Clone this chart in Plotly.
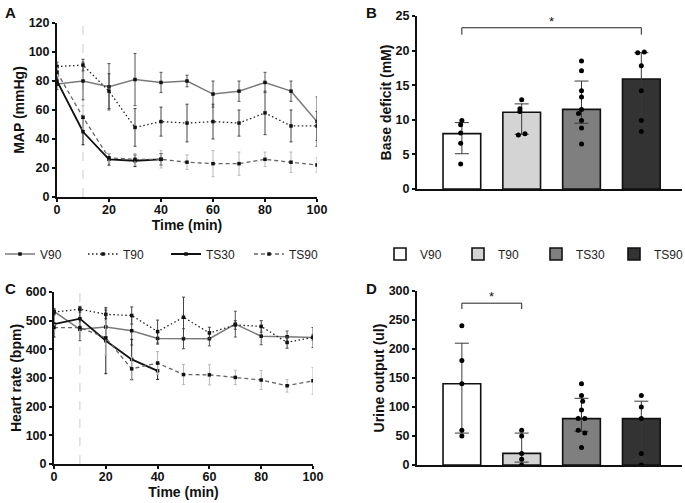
import plotly.graph_objects as go

# ---------------- data ----------------
groups = ["V90", "T90", "TS30", "TS90"]
time_full = [0, 10, 20, 30, 40, 50, 60, 70, 80, 90, 100]
time_ts30 = [0, 10, 20, 30, 40]
shock_end = 10

# MAP (mmHg), mean and SD
v90_map = [78, 80, 76, 81, 79, 80, 71, 73, 79, 73, 52]
v90_map_sd = [4, 13, 16, 18, 7, 4, 9, 7, 7, 7, 17]
t90_map = [90, 91, 73, 48, 52, 51, 52, 51, 58, 49, 49]
t90_map_sd = [3, 4, 12, 13, 10, 13, 12, 9, 15, 11, 10]
ts30_map = [80, 45, 26, 25, 26]
ts30_map_sd = [3, 9, 4, 4, 4]
ts90_map = [86, 55, 27, 26, 26, 24, 23, 23, 26, 24, 22]
ts90_map_sd = [3, 8, 3, 4, 6, 5, 9, 8, 5, 7, 5]

# Heart rate (bpm), mean and SD
v90_hr = [532, 470, 478, 465, 438, 437, 437, 488, 446, 444, 441]
v90_hr_sd = [10, 40, 45, 50, 20, 35, 25, 45, 30, 20, 35]
t90_hr = [530, 540, 522, 518, 462, 512, 457, 485, 480, 424, 442]
t90_hr_sd = [10, 10, 15, 30, 40, 70, 20, 15, 20, 20, 10]
ts30_hr = [488, 507, 430, 365, 325]
ts30_hr_sd = [45, 40, 115, 70, 30]
ts90_hr = [476, 476, 440, 332, 352, 312, 311, 302, 293, 273, 290]
ts90_hr_sd = [10, 15, 60, 40, 40, 35, 35, 25, 33, 22, 47]

# Base deficit (mM)
bd_mean = [8.0, 11.1, 11.5, 15.9]
bd_err_plus = [1.6, 1.2, 4.1, 3.8]
bd_err_minus = [2.9, 3.2, 2.0, 6.5]
bd_points = [
    [9.9, 9.3, 8.1, 6.6, 3.6],
    [12.9, 11.6, 11.2, 8.0, 7.8],
    [18.5, 17.1, 14.2, 13.3, 11.5, 10.9, 9.9, 8.8, 6.5],
    [19.8, 19.7, 17.8, 14.2, 9.9, 8.3],
]
bd_sig = (0, 3, 23.3)

# Urine output (ul)
uo_mean = [140, 20, 80, 80]
uo_err_plus = [70, 35, 35, 30]
uo_err_minus = [85, 15, 22, 70]
uo_points = [
    [240, 180, 140, 60, 50],
    [60, 50, 20, 10, 0],
    [140, 120, 110, 95, 80, 80, 60, 55, 30],
    [120, 100, 80, 20, 0],
]
uo_sig = (0, 1, 279)

# ---------------- style ----------------
FONT = "Arial, Liberation Sans, Helvetica, sans-serif"
bar_colors = ["#ffffff", "#d4d4d4", "#7f7f7f", "#333333"]
line_styles = {
    "V90": dict(color="#7a7a7a", dash="solid", width=1.5, err="#555555"),
    "T90": dict(color="#222222", dash="1.5px,2.5px", width=1.3, err="#444444"),
    "TS30": dict(color="#111111", dash="solid", width=1.8, err="#222222"),
    "TS90": dict(color="#666666", dash="4px,3px", width=1.3, err="#b8b8b8"),
}
jitter_bd = [
    [0, -0.02, -0.02, -0.02, -0.02],
    [0, -0.03, -0.03, 0.055, -0.055],
    [0, 0, 0, 0, 0, -0.05, 0, 0, 0],
    [0.05, -0.06, 0, 0, 0, 0],
]
jitter_uo = [
    [0, 0, 0, 0, 0],
    [0, 0, 0, 0, 0],
    [0, 0, 0.02, 0, -0.055, 0.055, -0.055, 0.055, 0],
    [0, 0, 0, 0, 0],
]

fig = go.Figure()

line_sets = [
    ("x", "y", [(time_full, v90_map, v90_map_sd), (time_full, t90_map, t90_map_sd),
                (time_ts30, ts30_map, ts30_map_sd), (time_full, ts90_map, ts90_map_sd)], True),
    ("x2", "y2", [(time_full, v90_hr, v90_hr_sd), (time_full, t90_hr, t90_hr_sd),
                  (time_ts30, ts30_hr, ts30_hr_sd), (time_full, ts90_hr, ts90_hr_sd)], False),
]
for xa, ya, sets, showleg in line_sets:
    for g, (t, m, sd) in zip(groups, sets):
        st = line_styles[g]
        fig.add_trace(go.Scatter(
            x=t, y=m, name=g, mode="lines+markers", xaxis=xa, yaxis=ya,
            line=dict(color=st["color"], dash=st["dash"], width=st["width"]),
            marker=dict(size=3.5, color="#111111", symbol="square"),
            error_y=dict(type="data", array=sd, visible=True, color=st["err"], thickness=1, width=1.5),
            showlegend=showleg, legend="legend",
        ))

bar_sets = [
    ("x3", "y3", bd_mean, bd_err_plus, bd_err_minus, bd_points, jitter_bd, bd_sig, 1.0, True),
    ("x4", "y4", uo_mean, uo_err_plus, uo_err_minus, uo_points, jitter_uo, uo_sig, 10.0, False),
]
for xa, ya, means, ep, em, pts, jit, sig, tick, showleg in bar_sets:
    for i, g in enumerate(groups):
        fig.add_trace(go.Bar(
            x=[i], y=[means[i]], name=g, xaxis=xa, yaxis=ya, width=0.63,
            marker=dict(color=bar_colors[i], line=dict(color="#111111", width=1.6)),
            error_y=dict(type="data", symmetric=False, array=[ep[i]], arrayminus=[em[i]],
                         color="#3a3a3a", thickness=1, width=7),
            showlegend=showleg, legend="legend2",
        ))
        fig.add_trace(go.Scatter(
            x=[i + d for d in jit[i]], y=pts[i], mode="markers", xaxis=xa, yaxis=ya,
            marker=dict(size=5, color="#000000"), showlegend=False, hoverinfo="skip",
        ))
    a, b, h = sig
    fig.add_trace(go.Scatter(
        x=[a, a, b, b], y=[h - tick, h, h, h - tick], mode="lines", xaxis=xa, yaxis=ya,
        line=dict(color="#222222", width=1), showlegend=False, hoverinfo="skip",
    ))
    fig.add_annotation(x=(a + b) / 2, y=h, xref=xa, yref=ya, text="*", showarrow=False,
                       yanchor="bottom", yshift=-3, font=dict(family=FONT, size=13, color="#111"))

# shock-end marker lines
for xa, ya in [("x", "y"), ("x2", "y2")]:
    fig.add_shape(type="line", x0=shock_end, x1=shock_end, y0=0, y1=1, xref=xa,
                  yref=ya + " domain", line=dict(color="#cccccc", width=1, dash="dash"), layer="below")

tickfont = dict(family=FONT, size=12.5, color="#111", weight="bold")
titlefont = dict(family=FONT, size=14, color="#111", weight="bold")
ax_common = dict(showline=True, linecolor="#111", linewidth=2, ticks="outside", ticklen=3,
                 tickwidth=1.5, tickcolor="#111", showgrid=False, zeroline=False,
                 tickfont=tickfont, title_font=titlefont, automargin=False)
ax_line_x = dict(ax_common, ticklabelstandoff=-3)
ax_bar_x = dict(showticklabels=False, showline=True, linecolor="#111", linewidth=2,
                ticks="", showgrid=False, zeroline=False, automargin=False)

fig.update_layout(
    width=685, height=503, margin=dict(l=0, r=0, t=0, b=0, autoexpand=False),
    paper_bgcolor="white", plot_bgcolor="white", barmode="overlay",
    font=dict(family=FONT, color="#111"),
    xaxis=dict(domain=[57 / 685, 317 / 685], range=[0, 100], dtick=20, anchor="y",
               title=dict(text="Time (min)", standoff=0), **ax_line_x),
    yaxis=dict(domain=[1 - 197 / 503, 1 - 23 / 503], range=[0, 120], dtick=20, anchor="x",
               title=dict(text="MAP (mmHg)", standoff=1), **ax_common),
    xaxis2=dict(domain=[54 / 685, 313 / 685], range=[0, 100], dtick=20, anchor="y2",
                title=dict(text="Time (min)", standoff=0), **ax_line_x),
    yaxis2=dict(domain=[1 - 464 / 503, 1 - 292 / 503], range=[0, 600], dtick=100, anchor="x2",
                title=dict(text="Heart rate (bpm)", standoff=1), **ax_common),
    xaxis3=dict(domain=[417 / 685, 682 / 685], range=[-0.75, 3.68], anchor="y3", **ax_bar_x),
    yaxis3=dict(domain=[1 - 189 / 503, 1 - 16 / 503], range=[0, 25], dtick=5, anchor="x3",
                title=dict(text="Base deficit (mM)", standoff=1), **ax_common),
    xaxis4=dict(domain=[417 / 685, 682 / 685], range=[-0.75, 3.68], anchor="y4", **ax_bar_x),
    yaxis4=dict(domain=[1 - 465 / 503, 1 - 291 / 503], range=[0, 300], dtick=50, anchor="x4",
                title=dict(text="Urine output (ul)", standoff=1), **ax_common),
    legend=dict(orientation="h", x=0, xanchor="left", y=1 - 254 / 503, yanchor="middle",
                entrywidth=38, entrywidthmode="pixels", itemwidth=30,
                font=dict(family=FONT, size=12, color="#222"), bgcolor="rgba(0,0,0,0)"),
    legend2=dict(orientation="h", x=380 / 685, xanchor="left", y=1 - 254 / 503, yanchor="middle",
                 entrywidth=33, entrywidthmode="pixels", itemwidth=30,
                 font=dict(family=FONT, size=12, color="#222"), bgcolor="rgba(0,0,0,0)"),
)

for txt, px, py in [("A", 3, 2), ("B", 364, 2), ("C", 3, 278), ("D", 364, 278)]:
    fig.add_annotation(text=txt, x=px / 685, y=1 - py / 503, xref="paper", yref="paper",
                       xanchor="left", yanchor="top", showarrow=False,
                       font=dict(family=FONT, size=15, color="#111", weight="bold"))

fig.write_html("out.html", config={"displayModeBar": False},
               post_script="document.body.style.margin='0';document.body.style.overflow='hidden';")
